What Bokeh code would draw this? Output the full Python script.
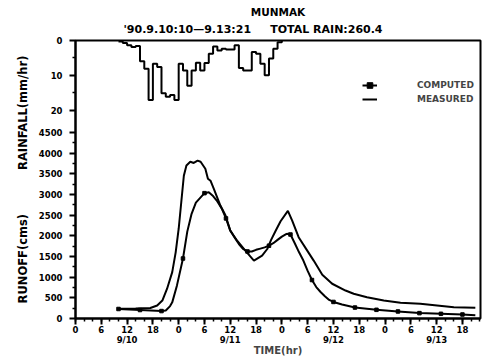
from bokeh.plotting import figure
from bokeh.models import Range1d, LinearAxis, FixedTicker, Legend, LegendItem, Title
from bokeh.embed import file_html
from bokeh.resources import INLINE

# ---------------- data ----------------
rain_hours = list(range(10, 48))          # hours after 9/10 0:00
rain_mm = [0.3, 0.7, 1.4, 1.9, 1.6, 6.0, 8.1, 17.1, 6.7, 7.6,
           15.2, 16.2, 15.7, 17.1, 6.7, 8.6, 13.0, 8.6, 6.4, 8.6,
           6.5, 3.8, 1.7, 2.9, 2.4, 2.6, 2.6, 1.4, 7.9, 8.6,
           8.6, 3.3, 3.8, 6.7, 10.0, 5.2, 2.4, 0.5]

computed_t = [10, 15, 20, 21, 22, 22.5, 23.6, 25, 26, 27, 28, 30, 31, 32, 33, 34, 35,
              36, 37, 38, 39, 40, 41, 42, 43, 44, 45, 46, 47, 48, 49, 49.6, 50,
              51, 52, 53, 54, 55, 56, 57, 58, 59, 60, 62, 65, 70, 75, 80, 85, 90, 93]
computed_q = [230, 205, 180, 195, 300, 390, 800, 1450, 2100, 2530, 2800, 3030, 3050, 2960, 2830, 2660, 2420,
              2125, 1960, 1800, 1680, 1620, 1620, 1660, 1690, 1720, 1760, 1820, 1900, 1980, 2040, 2050, 2030,
              1820, 1600, 1400, 1150, 930, 760, 640, 540, 450, 400, 340, 265, 210, 170, 130, 113, 97, 80]

measured_t = [10, 14, 17.4, 19, 20.2, 21.3, 22.5, 23.3, 24, 24.6, 25.2, 25.8, 26.7, 27.5, 28.4,
              29.1, 30.2, 30.8, 31.4, 32.2, 33.7, 34.9, 36, 37.6, 39.5, 41.5, 43.4, 44.6, 45.5,
              46.5, 47.7, 49.4, 50.4, 51.9, 53.9, 55.4, 57.4, 59.7, 62.8, 64.7, 67.8, 71.7,
              75.6, 80.2, 84.1, 88, 93]
measured_q = [235, 240, 255, 315, 435, 720, 1120, 1600, 2170, 2810, 3450, 3700, 3790, 3760, 3815,
              3790, 3620, 3380, 3330, 3130, 2730, 2490, 2125, 1880, 1640, 1400, 1520, 1680, 1900,
              2110, 2350, 2600, 2365, 1965, 1640, 1400, 1060, 840, 676, 597, 515, 435,
              380, 355, 314, 273, 258]

x_tick_hours = list(range(0, 91, 6))
x_tick_names = ["0", "6", "12", "18"] * 4
date_names = {12: "9/10", 36: "9/11", 60: "9/12", 84: "9/13"}
runoff_ticks = list(range(0, 4501, 500))
rain_ticks = [0, 10, 20]
rain_minor = [5, 15]

RUNOFF_TOP = 6720
RAIN_BOTTOM = 80
X_END = 94.2

FONT = "DejaVu Sans"
NB = "\u00a0"

# ---------------- figure ----------------
p = figure(width=488, height=361, output_backend="svg", toolbar_location=None,
           x_range=Range1d(0, X_END), y_range=Range1d(0, RUNOFF_TOP),
           x_axis_type=None, y_axis_type=None,
           min_border_left=75, min_border_right=8, min_border_top=40, min_border_bottom=43)
p.extra_y_ranges = {"rain": Range1d(RAIN_BOTTOM, 0)}
p.outline_line_color = "black"
p.outline_line_width = 2
p.background_fill_color = "white"
p.border_fill_color = "white"

def rain_to_runoff(r):
    return RUNOFF_TOP * (1 - r / RAIN_BOTTOM)

# x axis
x_labels = {}
for h, n in zip(x_tick_hours, x_tick_names):
    x_labels[h] = n + ("\n" + date_names[h] if h in date_names else "")
xaxis = LinearAxis(ticker=FixedTicker(ticks=x_tick_hours, minor_ticks=list(range(0, 95, 2))),
                   major_label_overrides=x_labels, axis_label="TIME(hr)")
p.add_layout(xaxis, "below")

# y axis (runoff + rainfall labels on one line)
y_major = runoff_ticks + [rain_to_runoff(r) for r in rain_ticks]
y_labels = {q: str(q) for q in runoff_ticks}
for r in rain_ticks:
    y_labels[rain_to_runoff(r)] = str(r)
y_minor = [q + 250 for q in runoff_ticks[:-1]] + [rain_to_runoff(r) for r in rain_minor]
yaxis = LinearAxis(ticker=FixedTicker(ticks=y_major, minor_ticks=y_minor),
                   major_label_overrides=y_labels)
p.add_layout(yaxis, "left")

for ax in (xaxis, yaxis):
    ax.axis_line_width = 2
    ax.axis_line_color = "black"
    ax.major_tick_line_width = 2
    ax.minor_tick_line_width = 1.5
    ax.major_tick_out = 6
    ax.major_tick_in = 0
    ax.minor_tick_out = 3
    ax.minor_tick_in = 0
    ax.major_label_text_font = FONT
    ax.major_label_text_font_style = "bold"
    ax.major_label_text_font_size = "8.5px"
    ax.major_label_text_color = "black"
xaxis.major_label_standoff = 0
xaxis.major_label_text_line_height = 1.05
xaxis.axis_label_standoff = -3
xaxis.axis_label_text_font = FONT
xaxis.axis_label_text_font_style = "bold"
xaxis.axis_label_text_font_size = "10px"
yaxis.major_label_standoff = 7

# ---------------- glyphs ----------------
rain_x = rain_hours + [rain_hours[-1] + 1]
rain_y = rain_mm + [0]
p.step(rain_x, rain_y, mode="after", y_range_name="rain", line_color="black", line_width=2)

meas = p.line(measured_t, measured_q, line_color="black", line_width=2)
comp = p.line(computed_t, computed_q, line_color="black", line_width=2)
mk_t = [t for t in computed_t if t % 5 == 0]
mk_q = [q for t, q in zip(computed_t, computed_q) if t % 5 == 0]
pts = p.scatter(mk_t, mk_q, marker="square", size=3.5, fill_color="black", line_color="black")

legend = Legend(items=[LegendItem(label="COMPUTED", renderers=[comp, pts]),
                       LegendItem(label="MEASURED", renderers=[meas])],
                location=(287, 212), glyph_width=15, glyph_height=14, label_height=14,
                label_standoff=40, spacing=0, padding=0, margin=0,
                border_line_color=None, background_fill_alpha=0,
                label_text_font=FONT, label_text_font_style="bold", label_text_font_size="9px")
p.add_layout(legend)

# ---------------- titles ----------------
def title(txt, size, align, offset, standoff, side):
    t = Title(text=txt, align=align, offset=offset, standoff=standoff,
              text_font=FONT, text_font_style="bold", text_font_size=size, text_color="black")
    p.add_layout(t, side)

# first added sits closest to the frame
title("'90.9.10:10\u20149.13:21" + NB * 5 + "TOTAL RAIN:260.4", "11px", "left", 48, 9, "above")
title("MUNMAK", "10.5px", "center", 19.5, -3, "above")
title("RUNOFF(cms)" + NB * 11 + "RAINFALL(mm/hr)", "11.5px", "center", 36.5, 12, "left")

open("out.html", "w").write(file_html(p, INLINE))
